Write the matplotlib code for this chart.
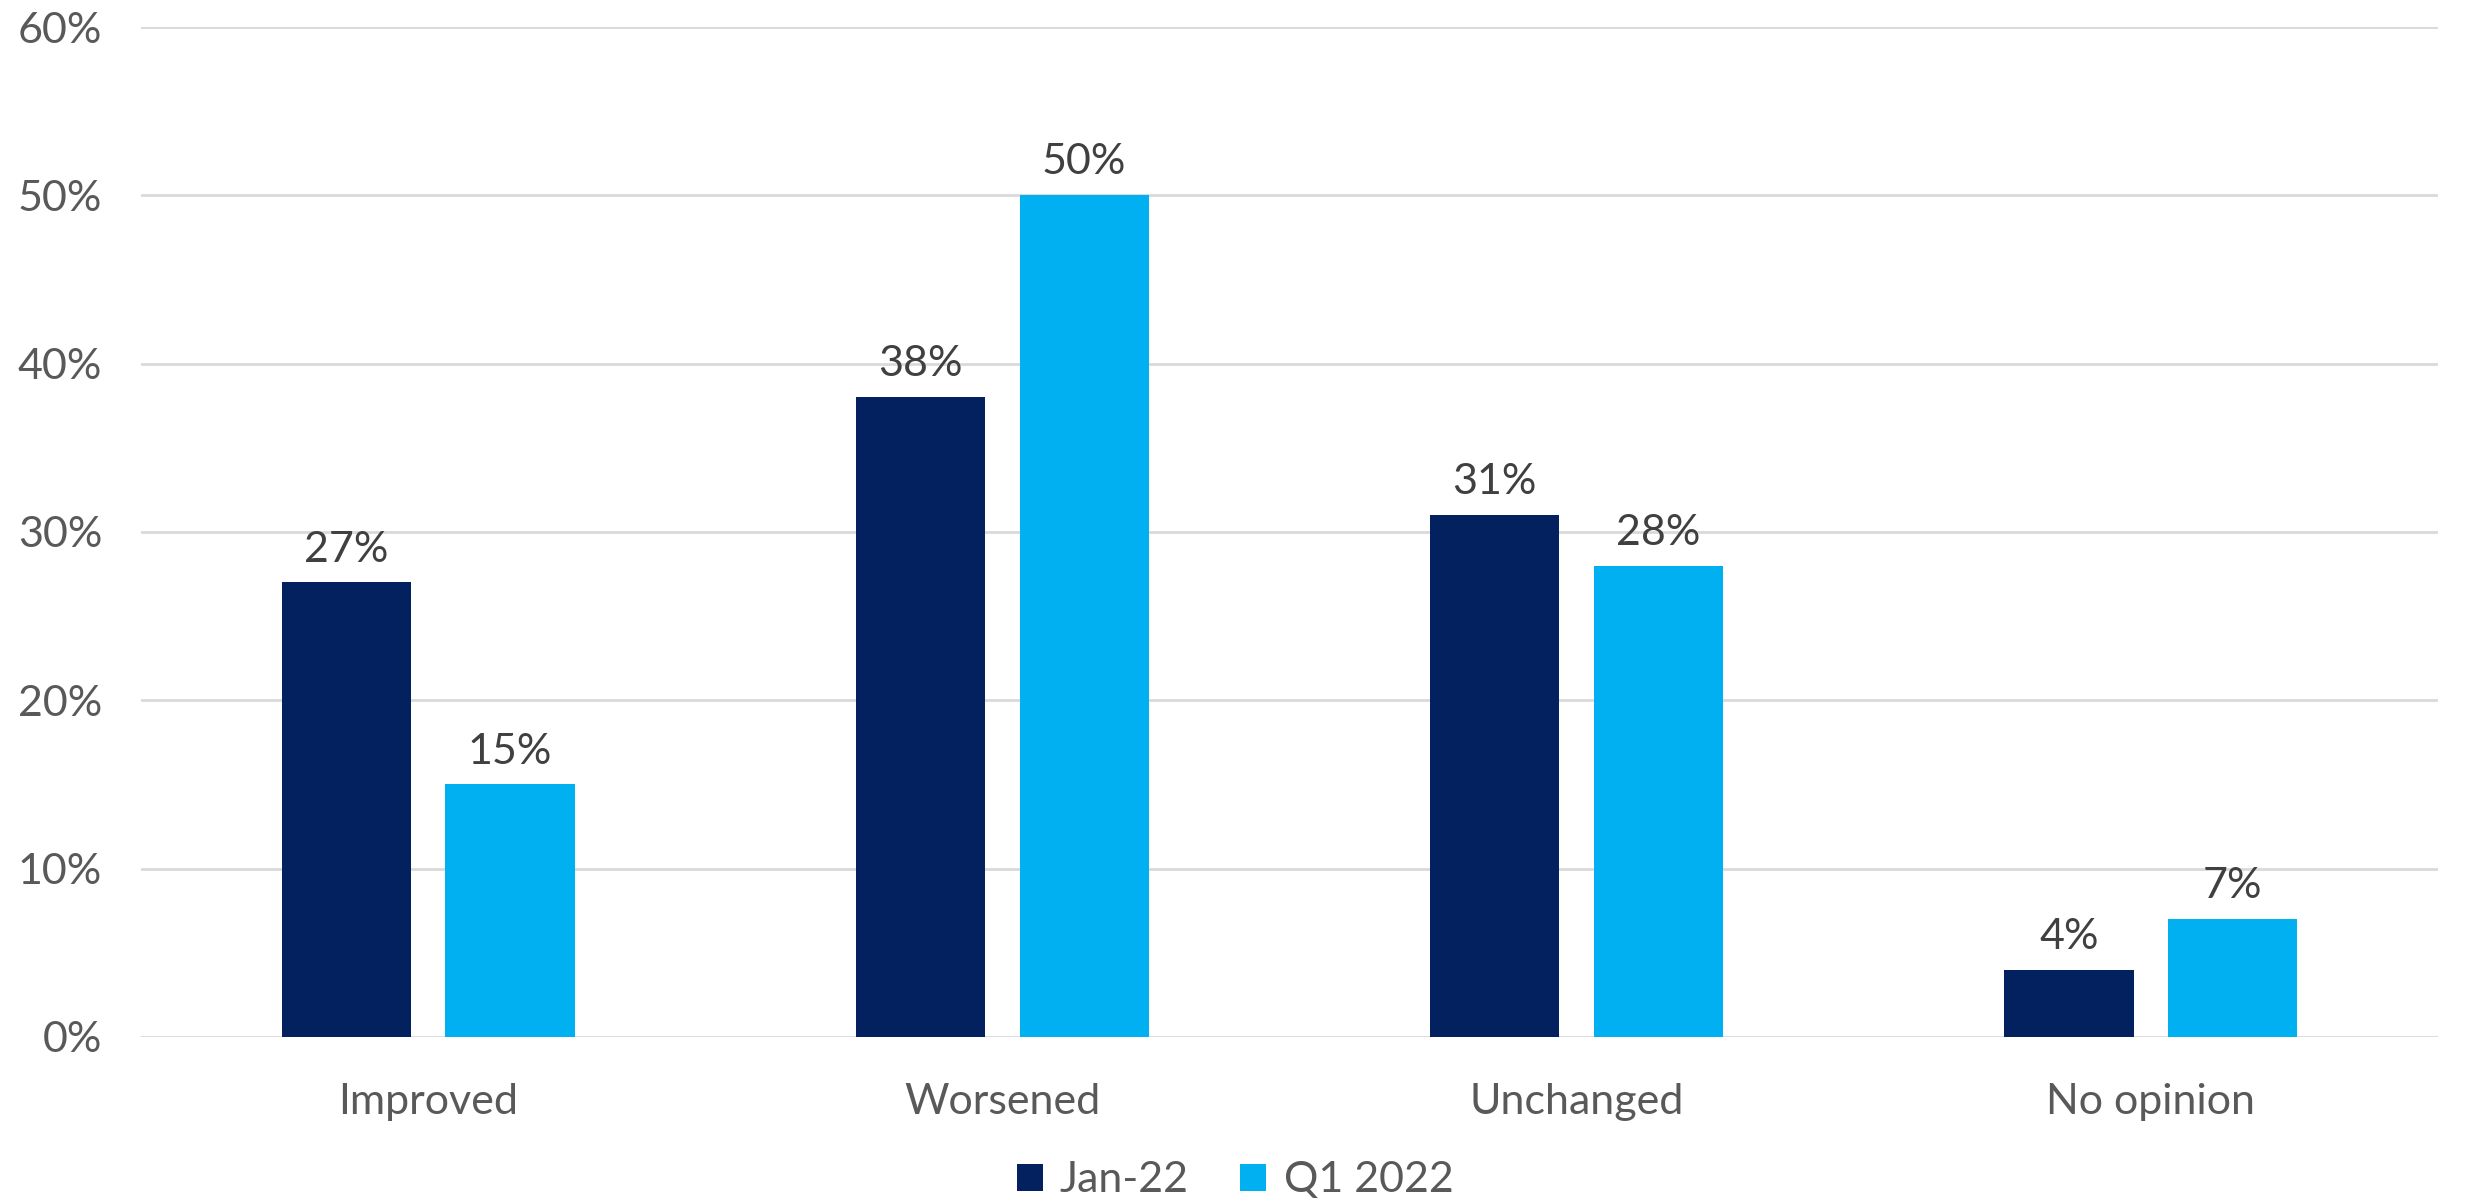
import matplotlib
matplotlib.use('Agg')
import matplotlib.pyplot as plt
import numpy as np

categories = ['Improved', 'Worsened', 'Unchanged', 'No opinion']
jan22 = [27, 38, 31, 4]
q1_2022 = [15, 50, 28, 7]
series_names = ['Jan-22', 'Q1 2022']
yticks = [0, 10, 20, 30, 40, 50, 60]

plt.rcParams['font.family'] = ['Lato', 'DejaVu Sans']
fs = 31

fig = plt.figure(figsize=(24.7, 12.01), dpi=100)
ax = fig.add_axes([0.0571, 0.1366, 0.9299, 0.8409])

x = np.arange(len(categories))
w = 0.225
off = (w + 0.06) / 2

b1 = ax.bar(x - off, jan22, w, color='#03215f', label=series_names[0], zorder=3)
b2 = ax.bar(x + off, q1_2022, w, color='#00b0f0', label=series_names[1], zorder=3)

for bars in (b1, b2):
    for r in bars:
        ax.annotate(f'{r.get_height():.0f}%', (r.get_x() + r.get_width() / 2, r.get_height()),
                    xytext=(0, 10), textcoords='offset points', ha='center', va='bottom',
                    fontsize=fs, color='#404040')

ax.set_xlim(-0.5, len(categories) - 0.5)
ax.set_ylim(0, 60)
ax.set_yticks(yticks)
ax.set_yticklabels([f'{t}%' for t in yticks])
ax.set_xticks(x)
ax.set_xticklabels(categories)
ax.tick_params(axis='both', length=0, labelsize=fs, labelcolor='#595959')
ax.tick_params(axis='y', pad=28)
ax.tick_params(axis='x', pad=33)
ax.yaxis.grid(True, color='#d9d9d9', linewidth=2, zorder=0)
for s in ax.spines.values():
    s.set_visible(False)

fig.legend(loc='lower center', bbox_to_anchor=(0.5, -0.031), ncol=2, frameon=False,
           fontsize=fs, labelcolor='#595959', handlelength=0.6, handleheight=0.6,
           handletextpad=0.4, columnspacing=1.2)

fig.savefig('out.png', dpi=100, facecolor='white')
